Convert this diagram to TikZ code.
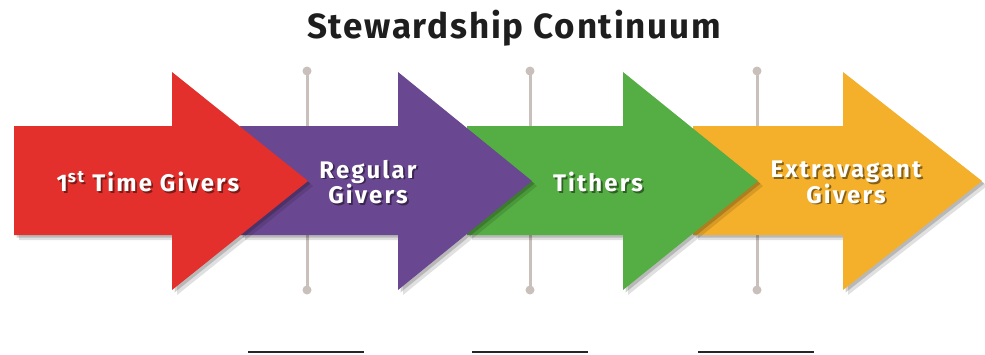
\documentclass[tikz,border=0pt]{standalone}
\usepackage{fontspec}
\setmainfont{Fira Sans}
\definecolor{cRed}{HTML}{E3302C}
\definecolor{cPurple}{HTML}{6A4791}
\definecolor{cGreen}{HTML}{55AE43}
\definecolor{cOrange}{HTML}{F4B02B}
\definecolor{cPole}{HTML}{C9C0BB}
\definecolor{cTitle}{HTML}{1E1E1E}
\newcommand\stewarrow[4]{%
  \fill[black,opacity=0.12,shift={(5,5)}] (#1,126) -- (#2,126) -- (#2,72) -- (#3,181) -- (#2,290) -- (#2,235) -- (#1,235) -- cycle;
  \fill[black,opacity=0.18,shift={(2.5,2.5)}] (#1,126) -- (#2,126) -- (#2,72) -- (#3,181) -- (#2,290) -- (#2,235) -- (#1,235) -- cycle;
  \fill[#4] (#1,126) -- (#2,126) -- (#2,72) -- (#3,181) -- (#2,290) -- (#2,235) -- (#1,235) -- cycle;}
\begin{document}
\begin{tikzpicture}[x=1pt,y=-1pt,
  pole/.style={draw=cPole,line width=3pt},
  poledot/.style={circle,fill=cPole,inner sep=0pt,minimum size=9pt},
  lblfont/.style={font=\bfseries\fontsize{24}{24}\selectfont\addfontfeatures{LetterSpace=9}},
  lbl/.style={lblfont,text=white,align=center,inner sep=0pt},
  lblshadow/.style={lblfont,text=black,opacity=0.45,align=center,inner sep=0pt},
  blank/.style={draw=black!85,line width=2pt}]
\useasboundingbox (0,0) rectangle (985,354);
% title
\node[text=cTitle,font=\bfseries\fontsize{35}{36}\selectfont\addfontfeatures{LetterSpace=5},inner sep=0pt] (title) at (514,28) {Stewardship Continuum};
% poles
\foreach \n/\x in {1/307,2/530,3/757}{
  \node[poledot] (top\n) at (\x,71) {};
  \node[poledot] (bot\n) at (\x,290) {};
  \draw[pole] (top\n.center) -- (bot\n.center);
}
% arrows, back to front
\stewarrow{693}{843}{982}{cOrange}
\stewarrow{467}{623}{758}{cGreen}
\stewarrow{240}{398}{532}{cPurple}
\stewarrow{14}{172}{308}{cRed}
% labels
\foreach \n/\x/\y/\t in {a/148/182/{1\textsuperscript{st} Time Givers},b/368/182/{Regular\\Givers},c/598/182/{Tithers},d/846/182/{Extravagant\\Givers}}{
  \node[lblshadow] at (\x+1.8,\y+1.8) {\t};
  \node[lbl] (lbl\n) at (\x,\y) {\t};
}
% blanks
\foreach \n/\x in {1/306,2/530,3/756}{
  \coordinate (bl\n) at (\x-58,352);
  \coordinate (br\n) at (\x+58,352);
  \draw[blank] (bl\n) -- (br\n);
}
\end{tikzpicture}
\end{document}
